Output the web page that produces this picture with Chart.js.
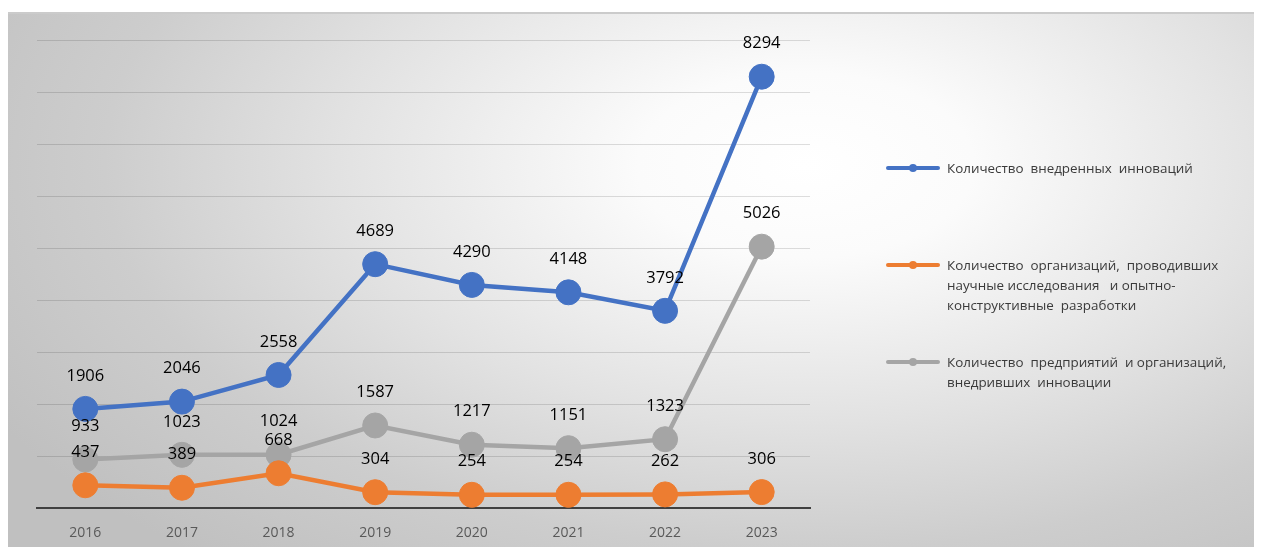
<!DOCTYPE html>
<html>
<head>
<meta charset="utf-8">
<script src="https://cdn.jsdelivr.net/npm/chart.js@4.4.1/dist/chart.umd.min.js"></script>
<style>
  html, body { margin: 0; padding: 0; background: #fff; }
  body { width: 1262px; height: 547px; position: relative; overflow: hidden; font-family: "Open Sans", sans-serif; }
  #panel {
    position: absolute; left: 8px; top: 12px; width: 1246px; height: 540px;
    border-top: 2px solid #cbcbcb;
    background: radial-gradient(ellipse 75% 95% at 64% 28%, #ffffff 0%, #fbfbfb 18%, #e2e2e2 50%, #cdcdcd 75%, #c0c0c0 100%);
  }
  #chartBox { position: absolute; left: 0; top: 0; width: 1262px; height: 547px; }
  #legend { position: absolute; left: 886px; top: 0; }
  .item { position: absolute; left: 0; width: 340px; }
  .mark { position: absolute; left: 0; width: 54px; height: 4px; border-radius: 2px; }
  .mark span { position: absolute; left: 23px; top: -2px; width: 8px; height: 8px; border-radius: 50%; }
  .txt { position: absolute; left: 61px; top: -10px; font-size: 13.4px; line-height: 20px; color: #3a3a3a; white-space: pre; }
</style>
</head>
<body>
<div id="panel"></div>
<div id="chartBox"><canvas id="innovChart" width="1262" height="547"></canvas></div>
<div id="legend"></div>
<script>
// chart data
const years = ["2016", "2017", "2018", "2019", "2020", "2021", "2022", "2023"];
const innovations = [1906, 2046, 2558, 4689, 4290, 4148, 3792, 8294];
const researchOrgs = [437, 389, 668, 304, 254, 254, 262, 306];
const innovEnterprises = [933, 1023, 1024, 1587, 1217, 1151, 1323, 5026];
const seriesNames = [
    "Количество  внедренных  инноваций",
    "Количество  организаций,  проводивших\nнаучные исследования   и опытно-\nконструктивные  разработки",
    "Количество  предприятий  и организаций,\nвнедривших  инновации"
];
const seriesColors = ["#4472C4", "#ED7D31", "#A5A5A5"];
const legendTops = [168, 265, 362];

// labels above each point
const pointLabels = {
    id: 'pointLabels',
    afterDatasetsDraw(chart) {
        const ctx = chart.ctx;
        ctx.save();
        ctx.font = '16.5px "Open Sans", sans-serif';
        ctx.fillStyle = '#000';
        ctx.textAlign = 'center';
        ctx.textBaseline = 'middle';
        chart.data.datasets.forEach((ds, i) => {
            const meta = chart.getDatasetMeta(i);
            meta.data.forEach((pt, j) => {
                ctx.fillText(ds.data[j], pt.x, pt.y - 33);
            });
        });
        ctx.restore();
    }
};

function makeDataset(name, values, color, order) {
    return {
        label: name,
        data: values,
        borderColor: color,
        backgroundColor: color,
        borderWidth: 4.5,
        pointRadius: 12.5,
        pointHoverRadius: 12.5,
        pointBorderWidth: 1,
        pointBorderColor: color,
        order: order
    };
}

function buildLegend() {
    const legend = document.getElementById('legend');
    for (let i = 0; i < seriesNames.length; i++) {
        const item = document.createElement('div');
        item.className = 'item';
        item.style.top = legendTops[i] + 'px';
        item.innerHTML = '<div class="mark" style="top:-2px;background:' + seriesColors[i] +
            '"><span style="background:' + seriesColors[i] + '"></span></div><div class="txt"></div>';
        item.querySelector('.txt').textContent = seriesNames[i];
        legend.appendChild(item);
    }
}

buildLegend();

new Chart(document.getElementById('innovChart'), {
    type: 'line',
    data: {
        labels: years,
        datasets: [
            makeDataset(seriesNames[0], innovations, seriesColors[0], 1),
            makeDataset(seriesNames[1], researchOrgs, seriesColors[1], 2),
            makeDataset(seriesNames[2], innovEnterprises, seriesColors[2], 3)
        ]
    },
    options: {
        responsive: false,
        animation: false,
        layout: { padding: { top: 40, right: 452, left: 0, bottom: 0 } },
        plugins: {
            legend: { display: false },
            tooltip: { enabled: false }
        },
        scales: {
            x: {
                offset: true,
                grid: { display: false, drawTicks: false },
                border: { display: true, color: '#404040', width: 2 },
                ticks: { color: '#595959', font: { family: 'Open Sans', size: 14 }, padding: 17 },
                afterFit(scale) { scale.height = 39; }
            },
            y: {
                min: 0,
                max: 9000,
                ticks: { display: false, stepSize: 1000 },
                grid: { color: 'rgba(0,0,0,0.13)', drawTicks: false },
                border: { display: false },
                afterFit(scale) { scale.width = 37; }
            }
        }
    },
    plugins: [pointLabels]
});
</script>
</body>
</html>
